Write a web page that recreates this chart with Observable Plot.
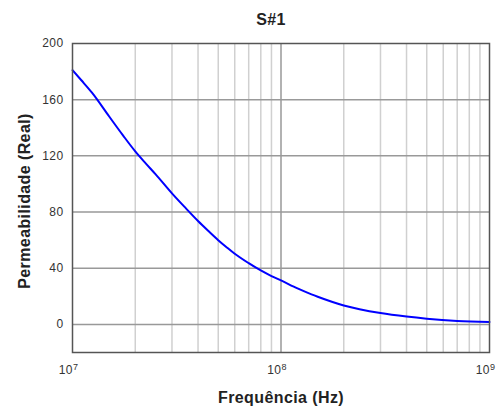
<!DOCTYPE html>
<html>
<head>
<meta charset="utf-8">
<script src="https://cdn.jsdelivr.net/npm/d3@7"></script>
<script src="https://cdn.jsdelivr.net/npm/@observablehq/plot@0.6"></script>
<style>
  html, body { margin: 0; padding: 0; background: #fff; }
  svg { display: block; }
</style>
</head>
<body>
<div id="chart"></div>
<script>
const title = "S#1";
const xLabel = "Frequência (Hz)";
const yLabel = "Permeabilidade (Real)";

const freq = [1e7, 1.1e7, 1.24e7, 1.5e7, 1.75e7, 2e7, 2.25e7, 2.5e7, 3e7, 3.5e7, 4e7, 4.5e7, 5e7, 5.5e7, 6e7, 7e7, 8e7, 9e7, 1e8, 1.2e8, 1.4e8, 1.5e8, 2e8, 3e8, 4e8, 5e8, 7e8, 1e9];
const perm = [181, 174, 165, 148, 134.4, 123.2, 114.5, 107, 93.3, 82.6, 73.6, 66.3, 60, 54.8, 50.3, 43.6, 38.4, 34.4, 31.3, 25.6, 21.4, 19.7, 13.5, 8.1, 5.6, 4.1, 2.5, 1.7];

const xMajor = [1e7, 1e8, 1e9];
const xMajorBase = ["10", "10", "10"];
const xMajorExp = ["7", "8", "9"];
const xMinor = [2e7, 3e7, 4e7, 5e7, 6e7, 7e7, 8e7, 9e7, 2e8, 3e8, 4e8, 5e8, 6e8, 7e8, 8e8, 9e8];
const yTicks = [0, 40, 80, 120, 160, 200];
const yGrid = [0, 40, 80, 120, 160];

const data = freq.map((f, i) => ({f, v: perm[i]}));

const chart = Plot.plot({
  width: 504,
  height: 407,
  marginLeft: 72,
  marginRight: 15,
  marginTop: 43,
  marginBottom: 55,
  style: {fontFamily: "Liberation Sans, Arial, sans-serif", fontSize: "12px", color: "#333", background: "#fff"},
  x: {type: "log", domain: [1e7, 1e9]},
  y: {domain: [-20, 200]},
  marks: [
    Plot.ruleX(xMinor, {stroke: "#d0d0d0", strokeWidth: 1.5}),
    Plot.ruleX([1e8], {stroke: "#999", strokeWidth: 1.5}),
    Plot.ruleY(yGrid, {stroke: "#999", strokeWidth: 1.5}),
    Plot.line(data, {x: "f", y: "v", stroke: "#0000ff", strokeWidth: 2, curve: "monotone-x"}),
    Plot.frame({stroke: "#555", strokeWidth: 1.5}),
    Plot.axisY(yTicks, {tickSize: 0, tickPadding: 9, label: null, fontSize: 12}),
    Plot.axisX(xMajor, {tickSize: 0, tickPadding: 13, label: null, fontSize: 12, dx: -4,
      tickFormat: (d) => xMajorBase[xMajor.indexOf(d)] + xMajorExp[xMajor.indexOf(d)]}),
    Plot.text([title], {frameAnchor: "top", lineAnchor: "middle", dy: -24, dx: -10, fontWeight: "bold", fontSize: 16, fill: "#222"}),
    Plot.text([xLabel], {frameAnchor: "bottom", lineAnchor: "middle", dy: 45, fontWeight: "bold", fontSize: 16, fill: "#222"}),
    Plot.text([yLabel], {frameAnchor: "left", lineAnchor: "middle", textAnchor: "middle", dx: -48, dy: 3, rotate: -90, fontWeight: "bold", fontSize: 16, fill: "#222"})
  ]
});

// letter spacing to mimic the wider reference text rendering
d3.select(chart).selectAll("text").style("letter-spacing", "0.4px");

// superscript exponents on the x tick labels
d3.select(chart).selectAll('g[aria-label="x-axis tick label"] text').each(function(d, i) {
  const t = d3.select(this);
  const idx = xMajor.indexOf(d);
  const k = idx >= 0 ? idx : i;
  t.text(null);
  t.append("tspan").text(xMajorBase[k]);
  t.append("tspan").attr("dy", "-0.5em").attr("font-size", "9px").text(xMajorExp[k]);
});

document.getElementById("chart").appendChild(chart);
</script>
</body>
</html>
